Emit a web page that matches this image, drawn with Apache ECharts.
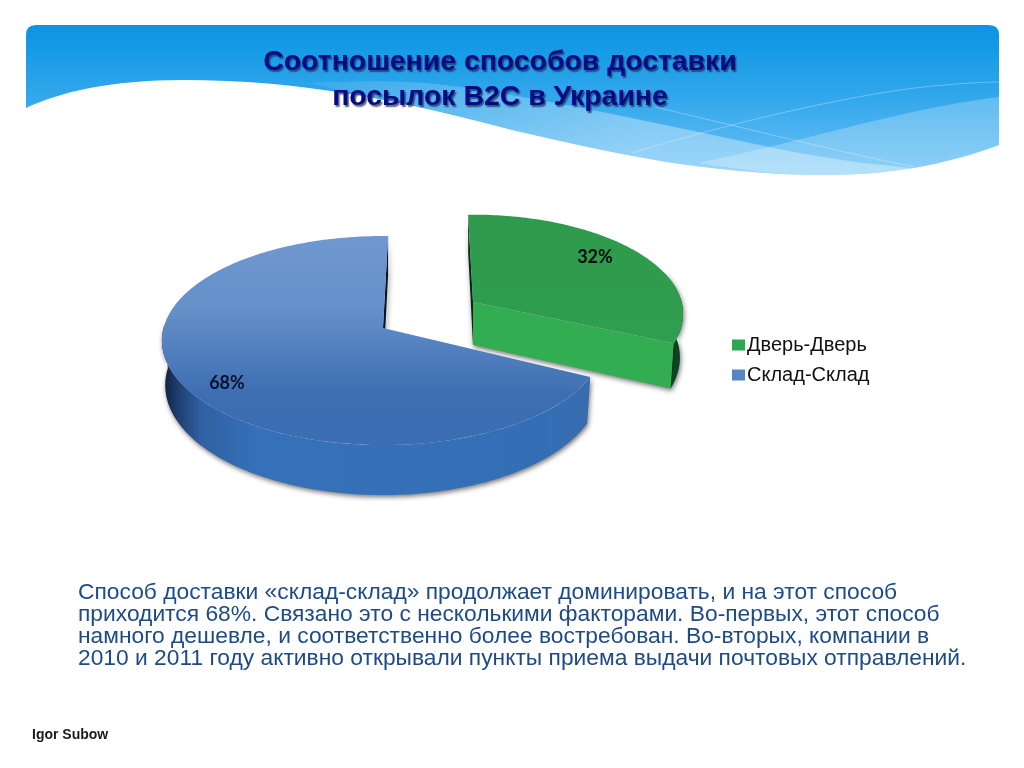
<!DOCTYPE html>
<html><head><meta charset="utf-8">
<style>html,body{margin:0;padding:0;background:#fff}#c{width:1024px;height:768px}</style>
<script src="https://cdn.jsdelivr.net/npm/echarts@6/dist/echarts.min.js"></script>
</head><body><div id="c"></div>
<script>
const categories = ['Дверь-Дверь', 'Склад-Склад'];
const shares = [32, 68];
const titleLines = ['Соотношение способов доставки', 'посылок B2C в Украине'];
const bodyLines = [
  'Способ доставки «склад-склад» продолжает доминировать, и на этот способ',
  'приходится 68%. Связано это с несколькими факторами. Во-первых, этот способ',
  'намного дешевле, и соответственно более востребован. Во-вторых, компании в',
  '2010 и 2011 году активно открывали пункты приема выдачи почтовых отправлений.'
];
const author = 'Igor Subow';

// --- projection of a tilted disc onto the page (perspective pie)
const P = 0.12, RX = 219.5, RY = 103, BOTTOM_X = 0.985;
function projTop(ax, ay, k, deg) {
  const t = deg * Math.PI / 180, u = Math.sin(t), v = -Math.cos(t), w = 1 - P * v;
  return [ax + k * RX * u / w, ay + k * RY * v / w];
}
function projBottom(ax, ay, k, deg, depth) {
  const t = deg * Math.PI / 180, v = -Math.cos(t), w = 1 - P * v, p = projTop(ax, ay, k, deg);
  return [ax + (p[0] - ax) * BOTTOM_X, p[1] + depth / w];
}
function arc(fn, from, to) {
  const pts = [], n = Math.max(2, Math.ceil(Math.abs(to - from)));
  for (let i = 0; i <= n; i++) pts.push(fn(from + (to - from) * i / n));
  return pts;
}
const lin = (x0, y0, x1, y1, stops) => new echarts.graphic.LinearGradient(x0, y0, x1, y1,
  stops.map(s => ({ offset: s[0], color: s[1] })), true);
const shadow = { shadowColor: 'rgba(0,0,0,0.55)', shadowBlur: 5, shadowOffsetX: 1, shadowOffsetY: 2 };

function slice(opt) {
  return function (params, api) {
    const value = api.value(0);
    const total = shares.reduce((a, b) => a + b, 0);
    const span = value / total * 360;
    const a0 = opt.start, a1 = a0 + span;
    const T = d => projTop(opt.ax, opt.ay, opt.k, d);
    const B = d => projBottom(opt.ax, opt.ay, opt.k, d, opt.depth);
    const apexT = [opt.ax, opt.ay], apexB = [opt.ax, opt.ay + opt.depth];
    const kids = [];
    const wallDeg = opt.backEdge === 'end' ? a1 : a0;
    kids.push({ type: 'polygon', shape: { points: [T(wallDeg), B(wallDeg), apexB, apexT] },
      style: Object.assign({ fill: opt.sliver }, shadow) });
    const rimFrom = opt.rim[0], rimTo = opt.rim[1];
    kids.push({ type: 'polygon',
      shape: { points: arc(T, rimFrom, rimTo).concat(arc(B, rimTo, rimFrom)) },
      style: Object.assign({ fill: opt.rimFill }, shadow) });
    if (opt.frontWall) {
      kids.push({ type: 'polygon', shape: { points: [apexT, T(a1), B(a1), apexB] },
        style: Object.assign({ fill: opt.frontWall }, shadow) });
    }
    kids.push({ type: 'polygon', shape: { points: [apexT].concat(arc(T, a0, a1)) },
      style: { fill: opt.topFill } });
    kids.push({ type: 'text', x: opt.label[0], y: opt.label[1],
      style: { text: value + '%', fill: opt.labelColor, font: 'bold 18px Lato, "Open Sans", sans-serif',
        align: 'center', verticalAlign: 'middle' } });
    return { type: 'group', children: kids };
  };
}

const GREEN = {
  ax: 473, ay: 302, k: 0.95, depth: 43, start: -1.5, backEdge: 'start', rim: [72, 114],
  sliver: '#08291a', frontWall: '#33ad52',
  rimFill: lin(672, 0, 686, 0, [[0, '#0f5a2c'], [1, '#062813']]),
  topFill: lin(0, 216, 0, 345, [[0, '#2f9a4d'], [1, '#2f9e4e']]),
  label: [595, 257], labelColor: '#0b0b0b'
};
const BLUE = {
  ax: 383, ay: 328, k: 1, depth: 44, start: 116.7, backEdge: 'end', rim: [116.7, 272],
  sliver: '#06142b', frontWall: null,
  rimFill: lin(163, 0, 590, 0, [[0, '#101f38'], [0.035, '#1f3f70'], [0.09, '#3061a3'], [0.22, '#3570b9'], [0.9, '#346fb6'], [1, '#3a6cae']]),
  topFill: lin(0, 236, 0, 446, [[0, '#7097d0'], [0.35, '#6590c9'], [0.75, '#3e6eb2'], [1, '#3a6db2']]),
  label: [227, 383], labelColor: '#06122c'
};

const outer = 'C960,160 900,175 829,175 C700,175 600,150 512,130 C400,100 300,80 183,80 C110,80 60,92 26,108 Z';
function header() {
  const p = (d, style) => ({ type: 'path', shape: { pathData: d }, style });
  return { type: 'group', children: [
    p('M26,35 Q26,25 36,25 L989,25 Q999,25 999,35 L999,145 ' + outer, { fill: lin(0, 25, 0, 175, [[0, '#0e94e2'], [0.12, '#1199e5'], [0.5, '#34a8ec'], [1, '#6cc2f5']]) }),
    p('M307,83 C350,81 400,80 433,84 C500,90 620,115 769,147 C830,160 880,165 912,168 C890,172 860,175 829,175 C700,175 600,150 512,130 C440,110 370,95 307,83 Z',
      { fill: lin(307, 0, 640, 0, [[0, 'rgba(255,255,255,0.08)'], [1, 'rgba(255,255,255,0.34)']]) }),
    p('M699,163 C720,158 745,153 769,147 C850,127 930,105 999,97 L999,145 C960,160 900,175 829,175 C780,175 740,170 699,163 Z', { fill: 'rgba(255,255,255,0.24)' }),
    p('M632,153 C700,132 850,92 945,85 C965,83 985,82 999,82', { fill: 'none', stroke: 'rgba(255,255,255,0.3)', lineWidth: 1 }),
    p('M655,107 C720,122 830,150 915,167', { fill: 'none', stroke: 'rgba(255,255,255,0.3)', lineWidth: 1 })
  ] };
}

const chart = echarts.init(document.getElementById('c'), null, { renderer: 'canvas' });
chart.setOption({
  animation: false,
  backgroundColor: '#fff',
  title: {
    text: titleLines.join('\n'), left: 495, top: 40, textAlign: 'center', z: 8,
    textStyle: { fontFamily: '"Liberation Sans", Arial, sans-serif', fontWeight: 'bold', fontSize: 28.4, lineHeight: 35,
      color: '#000b85', textShadowColor: 'rgba(30,40,80,0.75)', textShadowBlur: 1.5, textShadowOffsetX: 1.5, textShadowOffsetY: 1.5 }
  },
  legend: {
    orient: 'vertical', left: 727, top: 330, itemWidth: 13, itemHeight: 11, itemGap: 10, icon: 'rect',
    data: categories,
    textStyle: { fontFamily: '"Liberation Sans", Arial, sans-serif', fontSize: 20, color: '#111', padding: [0, 0, 0, -3] }
  },
  graphic: { elements: [
    { type: 'text', z: 5, x: 78, y: 582, style: { text: bodyLines.join('\n'),
        font: '22.8px "Liberation Sans", Arial, sans-serif', lineHeight: 22, fill: '#1d4b85' } },
    { type: 'text', z: 5, x: 32, y: 728, style: { text: author,
        font: 'bold 14px "Liberation Sans", Arial, sans-serif', fill: '#1a1a1a' } }
  ] },
  series: [
    { type: 'custom', name: 'header', coordinateSystem: 'none', z: 0, silent: true, renderItem: header, data: [[0]] },
    { type: 'custom', name: categories[0], coordinateSystem: 'none', z: 2, silent: true,
      itemStyle: { color: '#2fa650' }, renderItem: slice(GREEN), data: [[shares[0]]] },
    { type: 'custom', name: categories[1], coordinateSystem: 'none', z: 3, silent: true,
      itemStyle: { color: '#5585c6' }, renderItem: slice(BLUE), data: [[shares[1]]] }
  ]
});
</script></body></html>
